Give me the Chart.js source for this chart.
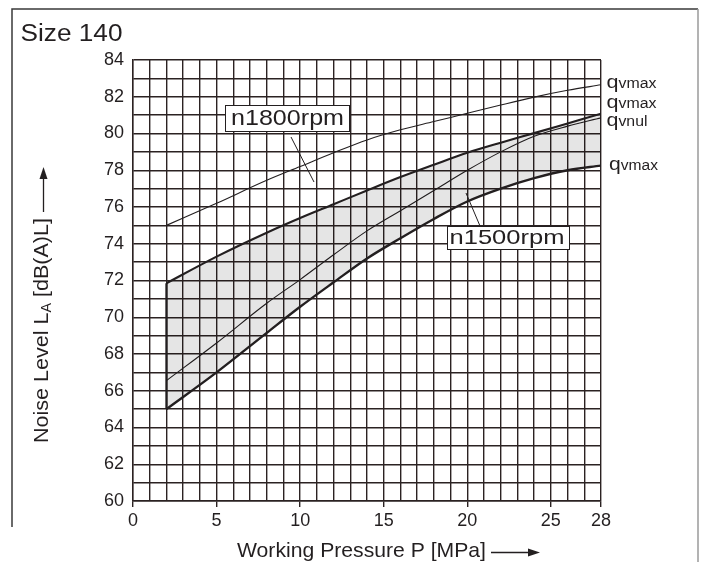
<!DOCTYPE html>
<html>
<head>
<meta charset="utf-8">
<script src="https://cdn.jsdelivr.net/npm/chart.js@4/dist/chart.umd.min.js"></script>
<style>
html,body{margin:0;padding:0;background:#fff;}
canvas{display:block;}
</style>
</head>
<body>
<canvas id="c" width="707" height="562"></canvas>
<script>
// ---- data ----
const pressure = [2, 5, 8, 10, 12, 14, 16, 18, 20, 22, 24, 26, 28];
const n1800_qvmax = [75.0, 76.2, 77.45, 78.2, 78.95, 79.65, 80.2, 80.65, 81.1, 81.55, 81.98, 82.35, 82.65];
const n1500_qvmax_upper = [71.85, 73.3, 74.6, 75.4, 76.15, 76.9, 77.63, 78.3, 78.95, 79.5, 80.02, 80.55, 81.08];
const n1500_qvnul = [66.55, 68.6, 70.76, 72.05, 73.4, 74.7, 75.8, 76.9, 78.0, 79.0, 79.85, 80.4, 80.85];
const n1500_qvmax_lower = [65.0, 67.0, 69.15, 70.57, 71.9, 73.2, 74.3, 75.35, 76.3, 77.0, 77.57, 78.0, 78.25];
const xTickLabels = [0, 5, 10, 15, 20, 25, 28];
const yTickLabels = [60, 62, 64, 66, 68, 70, 72, 74, 76, 78, 80, 82, 84];

const FONT = '"Liberation Sans", Arial, Helvetica, sans-serif';
const INK = '#231f20';
const GRID = '#2b2222';

function pts(ys) { return pressure.map((p, i) => ({x: p, y: ys[i]})); }

// draw a run of [text, size, dy] parts, scaled horizontally to fit width w
function drawParts(ctx, parts, x, y, w, color) {
  ctx.save();
  let total = 0;
  parts.forEach(pt => { ctx.font = pt[1] + 'px ' + FONT; total += ctx.measureText(pt[0]).width; });
  const s = w / total;
  ctx.translate(x, y);
  ctx.scale(s, 1);
  ctx.fillStyle = color || INK;
  ctx.textAlign = 'left';
  ctx.textBaseline = 'alphabetic';
  let cx = 0;
  parts.forEach(pt => {
    ctx.font = pt[1] + 'px ' + FONT;
    ctx.fillText(pt[0], cx, pt[2] || 0);
    cx += ctx.measureText(pt[0]).width;
  });
  ctx.restore();
}

function arrowHead(ctx, x, y, dir) { // dir: 'right' or 'up'
  ctx.beginPath();
  if (dir === 'right') { ctx.moveTo(x, y); ctx.lineTo(x - 12, y - 4); ctx.lineTo(x - 12, y + 4); }
  else { ctx.moveTo(x, y); ctx.lineTo(x - 4, y + 12); ctx.lineTo(x + 4, y + 12); }
  ctx.closePath();
  ctx.fill();
}

const decorations = {
  id: 'decorations',
  afterDatasetsDraw(chart) {
    const ctx = chart.ctx;
    ctx.save();
    // leader lines
    ctx.strokeStyle = INK; ctx.lineWidth = 1;
    ctx.beginPath(); ctx.moveTo(291, 137); ctx.lineTo(314, 182); ctx.stroke();
    ctx.beginPath(); ctx.moveTo(466, 193); ctx.lineTo(480, 226); ctx.stroke();
    // label boxes
    const boxes = [
      {x: 225, y: 105, w: 124, h: 26, t: 'n1800rpm', tx: 231, tb: 125, tw: 113, fs: 22},
      {x: 447, y: 226, w: 122, h: 23, t: 'n1500rpm', tx: 449.5, tb: 243.5, tw: 115, fs: 21}
    ];
    boxes.forEach(b => {
      ctx.fillStyle = '#fff';
      ctx.fillRect(b.x, b.y, b.w, b.h);
      ctx.strokeStyle = INK; ctx.lineWidth = 1;
      ctx.strokeRect(b.x + 0.5, b.y + 0.5, b.w, b.h);
      drawParts(ctx, [[b.t, b.fs]], b.tx, b.tb, b.tw);
    });
    ctx.restore();
  },
  afterDraw(chart) {
    const ctx = chart.ctx;
    ctx.save();
    // outer frame
    ctx.lineWidth = 1.5;
    ctx.strokeStyle = '#3a3a3a';
    ctx.beginPath(); ctx.moveTo(12, 527); ctx.lineTo(12, 9); ctx.lineTo(698, 9); ctx.stroke();
    ctx.strokeStyle = '#9a9a9a';
    ctx.beginPath(); ctx.moveTo(698, 9); ctx.lineTo(698, 562); ctx.stroke();
    // title
    drawParts(ctx, [['Size 140', 23]], 20.5, 40.5, 102);
    // x axis title + arrow
    drawParts(ctx, [['Working Pressure P [MPa]', 21]], 237, 556.5, 249);
    ctx.strokeStyle = INK; ctx.fillStyle = INK; ctx.lineWidth = 1.3;
    ctx.beginPath(); ctx.moveTo(491, 552.5); ctx.lineTo(530, 552.5); ctx.stroke();
    arrowHead(ctx, 540, 552.5, 'right');
    // y axis title (rotated) + arrow
    ctx.save();
    ctx.translate(48, 443);
    ctx.rotate(-Math.PI / 2);
    drawParts(ctx, [['Noise Level L', 21], ['A', 14, 3], [' [dB(A)L]', 21]], 0, 0, 225);
    ctx.restore();
    ctx.beginPath(); ctx.moveTo(43.5, 212); ctx.lineTo(43.5, 178); ctx.stroke();
    arrowHead(ctx, 43.5, 167, 'up');
    // right-hand curve labels
    const rl = [
      {x: 606.5, b: 88, w: 50, p: [['q', 19], ['vmax', 14]]},
      {x: 606.5, b: 108, w: 50, p: [['q', 19], ['vmax', 14]]},
      {x: 606.5, b: 126, w: 41, p: [['q', 19], ['vnul', 14]]},
      {x: 609, b: 170, w: 49, p: [['q', 19], ['vmax', 14]]}
    ];
    rl.forEach(r => drawParts(ctx, r.p, r.x, r.b, r.w));
    ctx.restore();
  }
};

const lineBase = {pointRadius: 0, borderColor: INK, cubicInterpolationMode: 'monotone', fill: false};

new Chart(document.getElementById('c'), {
  type: 'line',
  data: {
    datasets: [
      Object.assign({}, lineBase, {label: 'n1500 qvmax (lower)', data: pts(n1500_qvmax_lower), borderWidth: 2.4}),
      Object.assign({}, lineBase, {label: 'n1500 qvmax (upper)', data: pts(n1500_qvmax_upper), borderWidth: 2.1,
        fill: {target: 0}, backgroundColor: 'rgba(0,0,0,0.1)'}),
      Object.assign({}, lineBase, {label: 'n1500 qvnul', data: pts(n1500_qvnul), borderWidth: 1.1}),
      Object.assign({}, lineBase, {label: 'n1800 qvmax', data: pts(n1800_qvmax), borderWidth: 1.1}),
      Object.assign({}, lineBase, {label: 'edge', data: [{x: pressure[0], y: n1500_qvmax_lower[0]}, {x: pressure[0], y: n1500_qvmax_upper[0]}], borderWidth: 2.2})
    ]
  },
  options: {
    responsive: false,
    devicePixelRatio: 1,
    animation: false,
    layout: {padding: {left: 0, right: 106, top: 60, bottom: 0}},
    plugins: {legend: {display: false}, tooltip: {enabled: false}, title: {display: false}},
    scales: {
      x: {
        type: 'linear', min: 0, max: 28,
        afterFit(s) { s.height = 61; },
        ticks: {stepSize: 1, autoSkip: false, maxRotation: 0, padding: 3, color: INK,
          font: {size: 18, family: FONT},
          callback: v => xTickLabels.includes(v) ? String(v) : ''},
        grid: {color: GRID, lineWidth: 1.4, tickLength: 6, drawTicks: true,
          tickColor: c => (c.tick && xTickLabels.includes(c.tick.value)) ? GRID : 'rgba(0,0,0,0)'},
        border: {display: true, color: GRID, width: 1.4}
      },
      y: {
        type: 'linear', min: 60, max: 84,
        afterFit(s) { s.width = 133; },
        ticks: {stepSize: 1, autoSkip: false, padding: 9, color: INK,
          font: {size: 18, family: FONT},
          callback: v => yTickLabels.includes(v) ? String(v) : ''},
        grid: {color: GRID, lineWidth: 1.4, drawTicks: false},
        border: {display: true, color: GRID, width: 1.4}
      }
    }
  },
  plugins: [decorations]
});
</script>
</body>
</html>
